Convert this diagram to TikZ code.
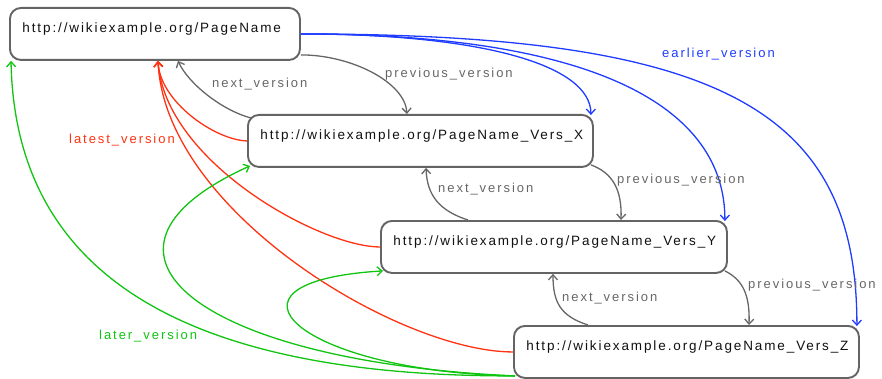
\documentclass[tikz,border=0pt]{standalone}
\usepackage{fontspec}
\setmainfont{Liberation Sans}[LetterSpace=15]
\usetikzlibrary{arrows.meta}

\definecolor{boxgray}{HTML}{646464}
\definecolor{edgegray}{HTML}{666666}
\definecolor{urltext}{HTML}{111111}
\definecolor{vblue}{HTML}{1F3CFF}
\definecolor{vred}{HTML}{FF3311}
\definecolor{vgreen}{HTML}{11C411}

\tikzset{
  pagebox/.style={draw=boxgray, line width=1.9pt, rounded corners=11pt, fill=white,
    anchor=north west, inner xsep=12.5pt, inner ysep=0pt,
    text height=25pt, text depth=27pt, align=left, text=urltext,
    font=\fontsize{13.5}{15}\selectfont\addfontfeature{LetterSpace=14}},
  link/.style={line width=1.3pt, -{Straight Barb[length=5pt,width=9pt]}},
  graylink/.style={link, edgegray},
  bluelink/.style={link, vblue},
  redlink/.style={link, vred},
  greenlink/.style={link, vgreen},
  tag/.style={inner sep=0pt, anchor=base west, font=\fontsize{13}{15}\selectfont},
}

\begin{document}
\begin{tikzpicture}[x=1pt, y=-1pt]
\useasboundingbox (0,0) rectangle (882,379);

% pages
\node[pagebox, text width=265pt] (page) at (9,7) {http://wikiexample.org/PageName};
\node[pagebox, text width=320pt] (versx) at (247,114) {http://wikiexample.org/PageName\_Vers\_X};
\node[pagebox, text width=321pt] (versy) at (380,220) {http://wikiexample.org/PageName\_Vers\_Y};
\node[pagebox, text width=320pt] (versz) at (513,325) {http://wikiexample.org/PageName\_Vers\_Z};

% previous_version / next_version chain
\draw[graylink] ([yshift=6pt]page.south east) .. controls +(50,0) and +(-2,-32) .. ([xshift=160pt]versx.north west);
\draw[graylink] ([xshift=4pt,yshift=-4pt]versx.north west) .. controls +(-30,-8) and +(10,22) .. ([xshift=169pt]page.south west);
\draw[graylink] ([xshift=-3pt,yshift=3pt]versx.south east) .. controls +(22,8) and +(1,-30) .. ([xshift=241pt]versy.north west);
\draw[graylink] ([xshift=88pt]versy.north west) .. controls +(-28,-9) and +(1,28) .. ([xshift=179pt]versx.south west);
\draw[graylink] ([xshift=-3pt,yshift=3pt]versy.south east) .. controls +(18,9) and +(1,-30) .. ([xshift=236pt]versz.north west);
\draw[graylink] ([xshift=75pt]versz.north west) .. controls +(-28,-9) and +(0,28) .. ([xshift=173pt]versy.south west);

% earlier_version
\draw[bluelink] (page.east) .. controls +(181,0) and +(0,-50) .. ([xshift=-3pt,yshift=-1pt]versx.north east);
\draw[bluelink] (page.east) .. controls +(301,0) and +(0,-111) .. ([xshift=-3pt,yshift=-1pt]versy.north east);
\draw[bluelink] (page.east) .. controls +(421,0) and +(0,-216) .. ([xshift=-3pt,yshift=-1pt]versz.north east);

% latest_version
\draw[redlink] (versx.west) .. controls +(-32,-1) and +(2,41) .. ([xshift=149pt]page.south west);
\draw[redlink] (versy.west) .. controls +(-60,0) and +(7,101) .. ([xshift=149pt]page.south west);
\draw[redlink] (versz.west) .. controls +(-113,0) and +(7,151) .. ([xshift=149pt]page.south west);

% later_version
\draw[greenlink] ([xshift=2pt,yshift=3pt]versz.south west) .. controls +(-365,1) and +(4,191) .. ([xshift=2pt]page.south west);
\draw[greenlink] ([xshift=2pt,yshift=3pt]versz.south west) .. controls +(-315,-14) and +(-190,86) .. ([xshift=3pt,yshift=2pt]versx.south west);
\draw[greenlink] ([xshift=2pt,yshift=3pt]versz.south west) .. controls +(-215,-4) and +(-183,11) .. ([xshift=3pt,yshift=3pt]versy.south west);

% labels
\node[tag, edgegray] (prevxa) at (385,78) {previous\_version};
\node[tag, edgegray] (nextxa) at (212,87.5) {next\_version};
\node[tag, edgegray] (prevxy) at (617,184) {previous\_version};
\node[tag, edgegray] (nextyx) at (438,193) {next\_version};
\node[tag, edgegray] (prevyz) at (748,288) {previous\_version};
\node[tag, edgegray] (nextzy) at (562,301) {next\_version};
\node[tag, vblue] (earlier) at (662,57.5) {earlier\_version};
\node[tag, vred] (latest) at (69,144) {latest\_version};
\node[tag, vgreen] (later) at (99,339) {later\_version};
\end{tikzpicture}
\end{document}
